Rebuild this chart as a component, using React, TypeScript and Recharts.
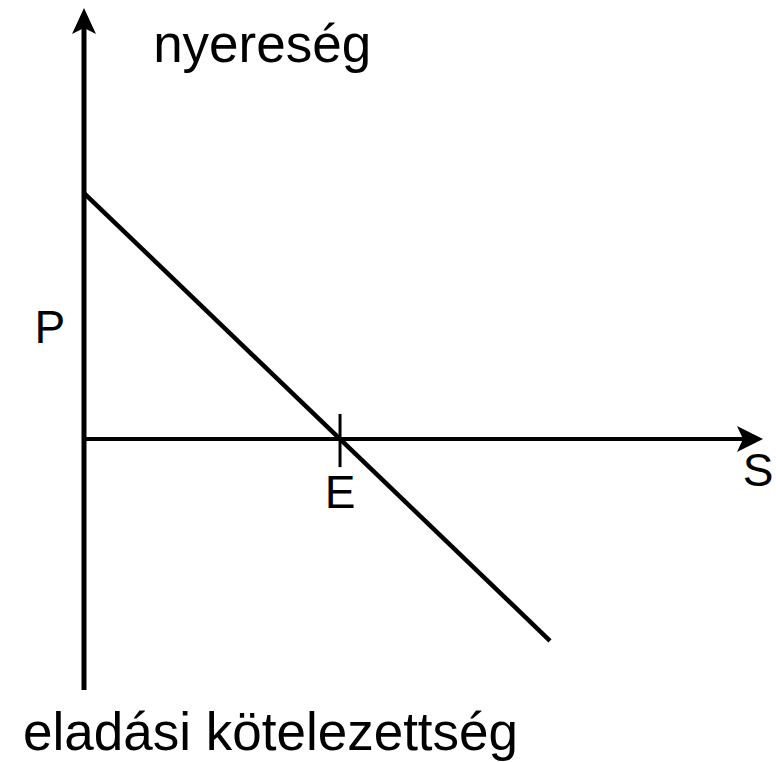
import {
  ComposedChart,
  Line,
  XAxis,
  YAxis,
  ReferenceLine,
  ReferenceDot
} from 'recharts'

// profit line: starts at P on the vertical axis, crosses zero at E
const lineX = [0, 1.82]
const lineY = [1, -0.82]

const xMax = 2.652
const yMin = -1.02
const yMax = 1.752
const ePoint = 1
const tickHalf = [0.102, -0.114]

const labelTexts = ['nyereség', 'P', 'E', 'S', 'eladási kötelezettség']
const labelX = [0.27, -0.133, 1.0, 2.633, -0.238]
const labelY = [1.533, 0.39, -0.28, -0.191, -1.264]
const labelAnchor = ['start', 'middle', 'middle', 'middle', 'start']
const labelSize = [53, 46, 46, 46, 53]

const data = lineX.map((x, i) => ({ x, y: lineY[i] }))

const FONT = '"Liberation Sans", Arial, Helvetica, sans-serif'

// eslint-disable-next-line @typescript-eslint/no-explicit-any
function UpArrowAxis(props: any) {
  const { x1, y1, y2 } = props
  const x = x1
  const bottom = Math.max(y1, y2)
  const tip = Math.min(y1, y2)
  return (
    <g>
      <line x1={x} y1={bottom} x2={x} y2={tip + 20} stroke="#000" strokeWidth={5} />
      <polygon
        points={`${x},${tip} ${x + 12},${tip + 26} ${x},${tip + 20} ${x - 12},${tip + 26}`}
        fill="#000"
      />
    </g>
  )
}

// eslint-disable-next-line @typescript-eslint/no-explicit-any
function RightArrowAxis(props: any) {
  const { x1, y1, x2 } = props
  const y = y1
  const left = Math.min(x1, x2)
  const tip = Math.max(x1, x2)
  return (
    <g>
      <line x1={left} y1={y} x2={tip - 20} y2={y} stroke="#000" strokeWidth={4} />
      <polygon
        points={`${tip},${y} ${tip - 26},${y - 13} ${tip - 20},${y} ${tip - 26},${y + 13}`}
        fill="#000"
      />
    </g>
  )
}

function textShape(i: number) {
  // eslint-disable-next-line @typescript-eslint/no-explicit-any
  return (props: any) => (
    <text
      x={props.cx}
      y={props.cy}
      textAnchor={labelAnchor[i]}
      fontSize={labelSize[i]}
      fontFamily={FONT}
      fill="#000"
    >
      {labelTexts[i]}
    </text>
  )
}

export default function App() {
  return (
    <div style={{ position: 'absolute', left: 0, top: 0, background: '#fff' }}>
      <ComposedChart
        width={776}
        height={762}
        data={data}
        margin={{ top: 8, right: 13, bottom: 72, left: 84 }}
      >
        <XAxis type="number" dataKey="x" domain={[0, xMax]} hide allowDataOverflow />
        <YAxis type="number" domain={[yMin, yMax]} hide allowDataOverflow />
        <ReferenceLine
          segment={[{ x: 0, y: yMin }, { x: 0, y: yMax }]}
          shape={UpArrowAxis}
          ifOverflow="visible"
        />
        <ReferenceLine
          segment={[{ x: 0, y: 0 }, { x: xMax, y: 0 }]}
          shape={RightArrowAxis}
          ifOverflow="visible"
        />
        <ReferenceLine
          segment={[{ x: ePoint, y: tickHalf[0] }, { x: ePoint, y: tickHalf[1] }]}
          stroke="#000"
          strokeWidth={3}
          ifOverflow="visible"
        />
        <Line
          type="linear"
          dataKey="y"
          stroke="#000"
          strokeWidth={4.5}
          dot={false}
          activeDot={false}
          isAnimationActive={false}
        />
        {labelTexts.map((t, i) => (
          <ReferenceDot
            key={t}
            x={labelX[i]}
            y={labelY[i]}
            r={0}
            ifOverflow="visible"
            shape={textShape(i)}
          />
        ))}
      </ComposedChart>
    </div>
  )
}
